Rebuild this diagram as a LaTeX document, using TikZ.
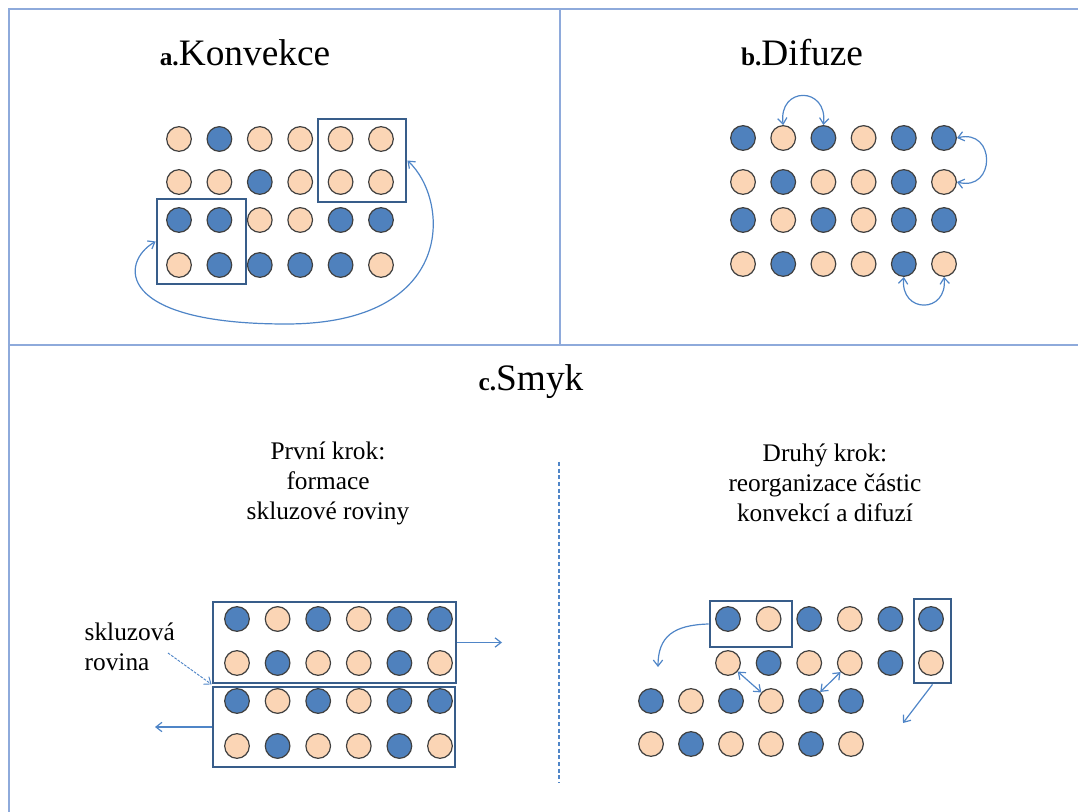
\documentclass[tikz,border=0pt]{standalone}
\usepackage{fontspec}
\setmainfont{Liberation Serif}
\usetikzlibrary{arrows.meta}

\definecolor{pe}{HTML}{FBD5B5}
\definecolor{bl}{HTML}{4F81BD}
\definecolor{boxc}{HTML}{385D8A}
\definecolor{arrc}{HTML}{4F85C7}
\definecolor{framec}{HTML}{8EAADB}

\begin{document}
\begin{tikzpicture}[x=0.75pt,y=-0.75pt,
  >={Straight Barb[length=4.5pt,width=7pt]},
  ball/.style={circle,draw=black!75,line width=0.9pt,minimum size=18.5pt,inner sep=0pt},
  box/.style={draw=boxc,line width=2.1pt,inner sep=0pt},
  arr/.style={draw=arrc,line width=0.9pt},
  title/.style={font=\fontsize{28}{32}\selectfont},
  lbl/.style={font=\fontsize{19}{22.5}\selectfont,align=center}]
\useasboundingbox (0,0) rectangle (1078,812);
% frame
\draw[framec,line width=2pt] (1078,9) -- (9,9) -- (9,812);
\draw[framec,line width=2pt] (9,345) -- (1078,345);
\draw[framec,line width=2pt] (560,9) -- (560,345);
\draw[arrc,line width=0.8pt,dash pattern=on 3pt off 2pt] (559,462) -- (559,783);

% a. Konvekce
\node[title] (ta) at (245,53) {{\bfseries\fontsize{19}{24}\selectfont a.}Konvekce};
\node[box,minimum width=66pt,minimum height=62.25pt] (ka) at (362,160.5) {};
\node[box,minimum width=66.75pt,minimum height=63.75pt] (kb) at (201.5,241.5) {};
\foreach \s [count=\i] in {pe,bl,pe,pe,pe,pe}
  \node[ball,fill=\s] (a-1-\i) at ({179+40.4*(\i-1)},139) {};
\foreach \s [count=\i] in {pe,pe,bl,pe,pe,pe}
  \node[ball,fill=\s] (a-2-\i) at ({179+40.4*(\i-1)},182) {};
\foreach \s [count=\i] in {bl,bl,pe,pe,bl,bl}
  \node[ball,fill=\s] (a-3-\i) at ({179+40.4*(\i-1)},220) {};
\foreach \s [count=\i] in {pe,bl,bl,bl,bl,pe}
  \node[ball,fill=\s] (a-4-\i) at ({179+40.4*(\i-1)},265) {};
\draw[arr,<->] (kb.west) .. controls (120,262) and (115,324) .. (286,324)
  .. controls (457,324) and (450,200) .. (ka.east);

% b. Difuze
\node[title] (tb) at (802,53) {{\bfseries\fontsize{19}{24}\selectfont b.}Difuze};
\foreach \s [count=\i] in {bl,pe,bl,pe,bl,bl}
  \node[ball,fill=\s] (b-1-\i) at ({743+40.2*(\i-1)},138) {};
\foreach \s [count=\i] in {pe,bl,pe,pe,bl,pe}
  \node[ball,fill=\s] (b-2-\i) at ({743+40.2*(\i-1)},182) {};
\foreach \s [count=\i] in {bl,pe,bl,pe,bl,bl}
  \node[ball,fill=\s] (b-3-\i) at ({743+40.2*(\i-1)},220) {};
\foreach \s [count=\i] in {pe,bl,pe,pe,bl,pe}
  \node[ball,fill=\s] (b-4-\i) at ({743+40.2*(\i-1)},264) {};
\draw[arr,<->] (b-1-2.north) .. controls (778,86) and (828,86) .. (b-1-3.north);
\draw[arr,<->] (b-1-6.east) .. controls (996,128) and (996,192) .. (b-2-6.east);
\draw[arr,<->] (b-4-5.south) .. controls (900,314) and (948,314) .. (b-4-6.south);

% c. Smyk
\node[title] (tc) at (531,382) {{\bfseries\fontsize{19}{24}\selectfont c.}Smyk};
\node[lbl] (k1) at (328,483) {První krok:\\formace\\skluzové roviny};
\node[lbl] (k2) at (825,483) {Druhý krok:\\reorganizace částic\\konvekcí a difuzí};

% first step
\node[box,minimum width=182.25pt,minimum height=60.75pt] (up) at (334.5,642.5) {};
\node[box,minimum width=181.5pt,minimum height=60pt] (lo) at (334,727) {};
\foreach \s [count=\i] in {bl,pe,bl,pe,bl,bl}
  \node[ball,fill=\s] (p-1-\i) at ({237+40.6*(\i-1)},619) {};
\foreach \s [count=\i] in {pe,bl,pe,pe,bl,pe}
  \node[ball,fill=\s] (p-2-\i) at ({237+40.6*(\i-1)},663) {};
\foreach \s [count=\i] in {bl,pe,bl,pe,bl,bl}
  \node[ball,fill=\s] (p-3-\i) at ({237+40.6*(\i-1)},701) {};
\foreach \s [count=\i] in {pe,bl,pe,pe,bl,pe}
  \node[ball,fill=\s] (p-4-\i) at ({237+40.6*(\i-1)},746) {};
\coordinate (ur) at (502,642.5);
\coordinate (ll) at (155,727);
\draw[arr,->] (up.east) -- (ur);
\draw[arr,->] (lo.west) -- (ll);
\node[lbl,align=left,anchor=west] (sk) at (80,647) {skluzová\\rovina};
\coordinate (sk0) at (168,653);
\draw[arr,->,line width=0.7pt,dash pattern=on 2pt off 1pt] (sk0) -- (up.south west);

% second step
\node[box,minimum width=61.5pt,minimum height=34.5pt] (ga) at (751,624) {};
\node[box,minimum width=27.75pt,minimum height=63pt] (gb) at (932.5,641) {};
\foreach \s [count=\i] in {bl,pe,bl,pe,bl,bl}
  \node[ball,fill=\s] (c-1-\i) at ({728+40.6*(\i-1)},619) {};
\foreach \s [count=\i] in {pe,bl,pe,pe,bl,pe}
  \node[ball,fill=\s] (c-2-\i) at ({728+40.6*(\i-1)},663) {};
\foreach \s [count=\i] in {bl,pe,bl,pe,bl,bl}
  \node[ball,fill=\s] (c-3-\i) at ({651+40*(\i-1)},701) {};
\foreach \s [count=\i] in {pe,bl,pe,pe,bl,pe}
  \node[ball,fill=\s] (c-4-\i) at ({651+40*(\i-1)},744) {};
\coordinate (gd) at (658,667);
\coordinate (ge) at (903,723);
\draw[arr,->] (ga.west) .. controls (674,625) and (658,636) .. (gd);
\draw[arr,->] (gb.south) -- (ge);
\draw[arr,<->] (c-2-1) -- (c-3-4);
\draw[arr,<->] (c-2-4) -- (c-3-5);
\end{tikzpicture}
\end{document}
